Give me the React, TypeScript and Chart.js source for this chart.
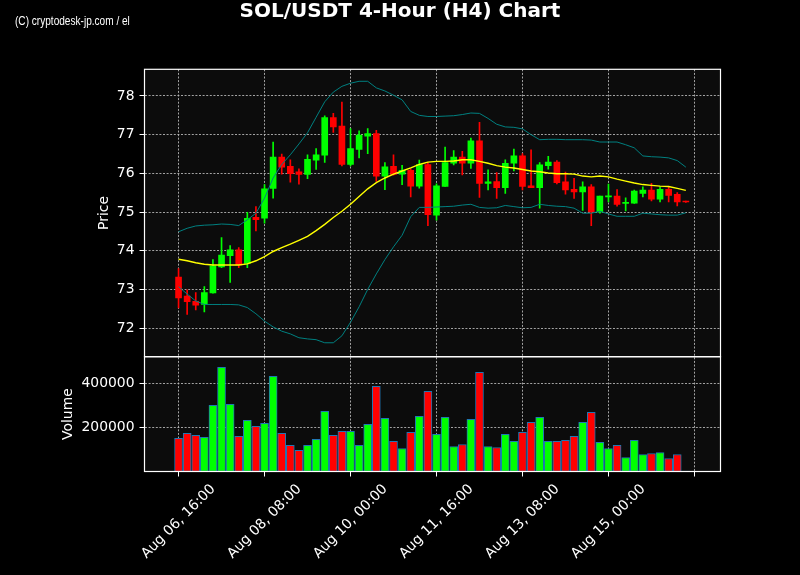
import React, { useEffect, useRef } from "react";
import { Chart, registerables } from "chart.js";

Chart.register(...registerables);

const TITLE = "SOL/USDT 4-Hour (H4) Chart";
const WATERMARK = "(C) cryptodesk-jp.com / el";
const PRICE_LABEL = "Price";
const VOLUME_LABEL = "Volume";

// 4-hour candles, first one = Aug 06, 16:00
const openPrices = [
  73.32, 72.83, 72.69, 72.61, 72.91, 73.58, 73.87, 74.02, 73.67, 74.86,
  74.84, 75.61, 76.42, 76.18, 76.04, 75.97, 76.34, 76.47, 77.44, 77.22,
  76.23, 76.62, 76.96, 77.03, 75.93, 76.18, 75.98, 76.08, 75.67, 76.23,
  74.92, 75.66, 76.26, 76.42, 76.26, 76.84, 75.74, 75.79, 75.63, 76.26,
  76.45, 75.68, 75.63, 76.2, 76.29, 75.78, 75.59, 75.52, 75.65, 75.0,
  75.39, 75.41, 75.22, 75.23, 75.48, 75.57, 75.33, 75.59, 75.46, 75.28,
];
const highPrices = [
  73.54, 72.99, 72.92, 73.07, 73.77, 74.34, 74.13, 74.08, 74.99, 75.14,
  75.71, 76.81, 76.5, 76.35, 76.12, 76.48, 76.64, 77.49, 77.55, 77.84,
  77.16, 77.1, 77.16, 77.11, 76.28, 76.48, 76.21, 76.12, 76.34, 76.28,
  75.73, 76.68, 76.59, 76.57, 76.91, 77.32, 76.09, 76.02, 76.35, 76.63,
  76.51, 76.61, 76.28, 76.44, 76.33, 76.03, 75.87, 75.78, 75.71, 75.41,
  75.72, 75.58, 75.37, 75.57, 75.65, 75.74, 75.65, 75.65, 75.5, 75.28,
];
const lowPrices = [
  72.52, 72.35, 72.47, 72.42, 72.9, 73.56, 73.18, 73.56, 73.56, 74.51,
  74.71, 75.36, 75.98, 75.77, 75.72, 75.86, 76.1, 76.28, 77.06, 76.19,
  76.19, 76.4, 76.51, 75.79, 75.58, 75.95, 75.71, 75.39, 75.62, 74.65,
  74.79, 75.66, 76.22, 75.96, 76.13, 75.38, 75.57, 75.35, 75.48, 76.06,
  75.57, 75.63, 75.1, 76.11, 75.73, 75.46, 75.35, 75.04, 74.65, 74.97,
  75.26, 75.15, 75.03, 75.22, 75.39, 75.29, 75.26, 75.26, 75.16, 75.25,
];
const closePrices = [
  72.78, 72.68, 72.59, 72.92, 73.61, 73.89, 74.02, 73.63, 74.84, 74.8,
  75.6, 76.42, 76.16, 75.99, 75.97, 76.36, 76.48, 77.44, 77.2, 76.23,
  76.64, 76.99, 77.03, 75.93, 76.17, 75.97, 76.08, 75.67, 76.23, 74.93,
  75.68, 76.28, 76.42, 76.26, 76.84, 75.74, 75.78, 75.63, 76.26, 76.45,
  75.66, 75.63, 76.22, 76.29, 75.76, 75.57, 75.52, 75.65, 75.0, 75.41,
  75.42, 75.2, 75.25, 75.54, 75.57, 75.33, 75.59, 75.43, 75.26, 75.26,
];
const volumes = [
  150000, 172700, 163600, 154500, 300000, 472700, 304500, 159100, 231800, 204500,
  218200, 431800, 172700, 118200, 95500, 118200, 145500, 272700, 163600, 181800,
  181800, 118200, 213600, 386400, 240900, 136400, 104500, 177300, 250000, 363600,
  168200, 245500, 113600, 122700, 236400, 450000, 113600, 109100, 168200, 136400,
  177300, 222700, 245500, 136400, 136400, 140900, 159100, 222700, 268200, 131800,
  104500, 118200, 63600, 140900, 77300, 81800, 86400, 59100, 77300, 1500,
];
// Bollinger bands as drawn on the chart
const bbUpper = [
  74.49, 74.58, 74.64, 74.66, 74.67, 74.69, 74.68, 74.65, 74.8, 74.97,
  75.36, 75.88, 76.23, 76.48, 76.76, 77.05, 77.45, 77.85, 78.1, 78.25,
  78.33, 78.38, 78.38, 78.21, 78.13, 78.02, 77.9, 77.6, 77.5, 77.47,
  77.47, 77.48, 77.49, 77.52, 77.56, 77.55, 77.42, 77.27, 77.2, 77.19,
  77.15, 77.0, 76.87, 76.88, 76.88, 76.87, 76.87, 76.87, 76.86, 76.81,
  76.81, 76.81, 76.74, 76.66, 76.45, 76.43, 76.42, 76.4, 76.33, 76.16,
];
const bbMiddle = [
  73.78, 73.74, 73.69, 73.65, 73.63, 73.63, 73.63, 73.63, 73.66, 73.74,
  73.85, 73.98, 74.08, 74.17, 74.27, 74.37, 74.52, 74.68, 74.86, 75.02,
  75.2, 75.4, 75.6, 75.76, 75.88, 75.98, 76.06, 76.14, 76.23, 76.29,
  76.31, 76.31, 76.32, 76.35, 76.35, 76.31, 76.26, 76.2, 76.16, 76.14,
  76.1, 76.06, 76.04, 76.01, 75.99, 75.99, 75.98, 75.93, 75.91, 75.93,
  75.91, 75.85, 75.8, 75.75, 75.71, 75.69, 75.67, 75.66, 75.61, 75.56,
];
const bbLower = [
  73.07, 72.88, 72.7, 72.61, 72.61, 72.61, 72.61, 72.6, 72.53, 72.37,
  72.18, 72.03, 71.92, 71.85, 71.75, 71.72, 71.7, 71.62, 71.62, 71.8,
  72.15, 72.55, 73.0, 73.4, 73.77, 74.1, 74.4, 74.88, 75.12, 75.12,
  75.13, 75.14, 75.15, 75.18, 75.2, 75.12, 75.1, 75.11, 75.17, 75.14,
  75.11, 75.12, 75.2, 75.17, 75.15, 75.14, 75.1, 74.97, 74.97, 75.02,
  74.95, 74.89, 74.89, 74.89, 74.97, 74.95, 74.93, 74.92, 74.92, 74.98,
];

const xTickIndex = [0, 10, 20, 30, 40, 50, 60];
const xTickLabels = [
  "Aug 06, 16:00",
  "Aug 08, 08:00",
  "Aug 10, 00:00",
  "Aug 11, 16:00",
  "Aug 13, 08:00",
  "Aug 15, 00:00",
  "",
];
const priceTicks = [72, 73, 74, 75, 76, 77, 78];
const volumeTicks = [200000, 400000];

const GREEN = "#00ff00";
const RED = "#ff0000";
const TEAL = "#008080";
const YELLOW = "#ffff00";
const PANEL_BG = "#0c0c0c";
const GRID = "rgba(190,190,190,0.85)";
const FONT = "DejaVu Sans";

export default function App() {
  const ref = useRef<HTMLCanvasElement | null>(null);

  useEffect(() => {
    const canvas = ref.current;
    if (!canvas) return;
    const idx = openPrices.map((_, i) => i);
    const colors = idx.map((i) => (closePrices[i] >= openPrices[i] ? GREEN : RED));

    const gridOpts = {
      color: GRID,
      lineWidth: 1,
      drawTicks: true,
      tickLength: 5,
      tickColor: "#ffffff",
      tickWidth: 1,
      tickBorderDash: [],
      offset: false,
    };
    const borderOpts = { display: false, dash: [2, 1.6], color: "#ffffff" };

    const decor = {
      id: "decor",
      beforeDraw(chart: any) {
        const { ctx, chartArea: a } = chart;
        ctx.save();
        ctx.fillStyle = "#000000";
        ctx.fillRect(0, 0, chart.width, chart.height);
        ctx.fillStyle = PANEL_BG;
        ctx.fillRect(a.left, a.top, a.right - a.left, a.bottom - a.top);
        ctx.restore();
      },
      afterDraw(chart: any) {
        const ctx = chart.ctx;
        const xs = chart.scales.x;
        const yp = chart.scales.y;
        const yv = chart.scales.yv;
        ctx.save();
        ctx.strokeStyle = "#ffffff";
        ctx.lineWidth = 1.2;
        ctx.strokeRect(xs.left, yp.top, xs.right - xs.left, yp.bottom - yp.top);
        ctx.strokeRect(xs.left, yv.top, xs.right - xs.left, yv.bottom - yv.top);

        ctx.fillStyle = "#ffffff";
        ctx.font = `13.9px "${FONT}"`;
        ctx.textAlign = "center";
        ctx.textBaseline = "middle";
        xTickIndex.forEach((v, k) => {
          const lbl = xTickLabels[k];
          if (!lbl) return;
          const px = xs.getPixelForValue(v);
          ctx.save();
          ctx.translate(px, xs.top + 50);
          ctx.rotate(-Math.PI / 4);
          ctx.fillText(lbl, 0, 0);
          ctx.restore();
        });

        ctx.save();
        ctx.translate(104, (yp.top + yp.bottom) / 2);
        ctx.rotate(-Math.PI / 2);
        ctx.fillText(PRICE_LABEL, 0, 0);
        ctx.restore();
        ctx.save();
        ctx.translate(68, (yv.top + yv.bottom) / 2);
        ctx.rotate(-Math.PI / 2);
        ctx.fillText(VOLUME_LABEL, 0, 0);
        ctx.restore();

        ctx.font = `bold 20px "${FONT}"`;
        ctx.textBaseline = "alphabetic";
        ctx.fillText(TITLE, 400, 17);

        ctx.save();
        ctx.translate(15, 25);
        ctx.scale(0.84, 1);
        ctx.font = `12px "Liberation Sans", sans-serif`;
        ctx.textAlign = "left";
        ctx.fillText(WATERMARK, 0, 0);
        ctx.restore();
        ctx.restore();
      },
    };

    const chart = new Chart(canvas, {
      type: "bar",
      data: {
        datasets: [
          {
            type: "line",
            label: "BB upper",
            data: idx.map((i) => ({ x: i, y: bbUpper[i] })),
            borderColor: TEAL,
            borderWidth: 1,
            pointRadius: 0,
            yAxisID: "y",
            order: 0,
          },
          {
            type: "line",
            label: "BB middle",
            data: idx.map((i) => ({ x: i, y: bbMiddle[i] })),
            borderColor: YELLOW,
            borderWidth: 1.4,
            pointRadius: 0,
            yAxisID: "y",
            order: 0,
          },
          {
            type: "line",
            label: "BB lower",
            data: idx.map((i) => ({ x: i, y: bbLower[i] })),
            borderColor: TEAL,
            borderWidth: 1,
            pointRadius: 0,
            yAxisID: "y",
            order: 0,
          },
          {
            type: "bar",
            label: "wick",
            data: idx.map((i) => ({ x: i, y: [lowPrices[i], highPrices[i]] })),
            backgroundColor: colors,
            borderWidth: 0,
            barThickness: 1,
            grouped: false,
            yAxisID: "y",
            order: 2,
          },
          {
            type: "bar",
            label: "body",
            data: idx.map((i) => ({ x: i, y: [openPrices[i], closePrices[i]] })),
            backgroundColor: colors,
            borderWidth: 0,
            barThickness: 6,
            minBarLength: 1,
            grouped: false,
            yAxisID: "y",
            order: 1,
          },
          {
            type: "bar",
            label: "volume",
            data: idx.map((i) => ({ x: i, y: volumes[i] })),
            backgroundColor: colors,
            borderColor: "rgb(31,119,180)",
            borderWidth: 1,
            borderSkipped: false,
            barThickness: 8,
            grouped: false,
            yAxisID: "yv",
            order: 1,
          },
        ] as any,
      },
      options: {
        responsive: false,
        animation: false,
        devicePixelRatio: 1,
        events: [],
        layout: { padding: { left: 0, right: 79.5, top: 69.3, bottom: 0 } },
        plugins: { legend: { display: false }, tooltip: { enabled: false }, title: { display: false } },
        scales: {
          x: {
            type: "linear",
            offset: false,
            min: -3.96,
            max: 63.03,
            afterBuildTicks: (s: any) => {
              s.ticks = xTickIndex.map((v) => ({ value: v }));
            },
            afterFit: (s: any) => {
              s.height = 103.5;
            },
            ticks: { display: false, autoSkip: false },
            grid: gridOpts,
            border: borderOpts,
          },
          yv: {
            type: "linear",
            position: "left",
            stack: "main",
            stackWeight: 114.8,
            offset: false,
            min: 0,
            max: 520900,
            afterBuildTicks: (s: any) => {
              s.ticks = volumeTicks.map((v) => ({ value: v }));
            },
            afterFit: (s: any) => {
              s.width = 144.5;
            },
            ticks: {
              color: "#ffffff",
              font: { family: FONT, size: 13.9 },
              padding: 5,
              autoSkip: false,
              callback: (v: any) => String(v),
            },
            grid: gridOpts,
            border: borderOpts,
          },
          y: {
            type: "linear",
            position: "left",
            stack: "main",
            stackWeight: 287.4,
            offset: false,
            min: 71.26,
            max: 78.69,
            afterBuildTicks: (s: any) => {
              s.ticks = priceTicks.map((v) => ({ value: v }));
            },
            afterFit: (s: any) => {
              s.width = 144.5;
            },
            ticks: {
              color: "#ffffff",
              font: { family: FONT, size: 13.9 },
              padding: 5,
              autoSkip: false,
              callback: (v: any) => String(v),
            },
            grid: gridOpts,
            border: borderOpts,
          },
        },
      } as any,
      plugins: [decor],
    });
    return () => chart.destroy();
  }, []);

  return (
    <div style={{ position: "fixed", left: 0, top: 0, width: 800, height: 575, background: "#000" }}>
      <canvas ref={ref} width={800} height={575} style={{ display: "block", width: 800, height: 575 }} />
    </div>
  );
}
